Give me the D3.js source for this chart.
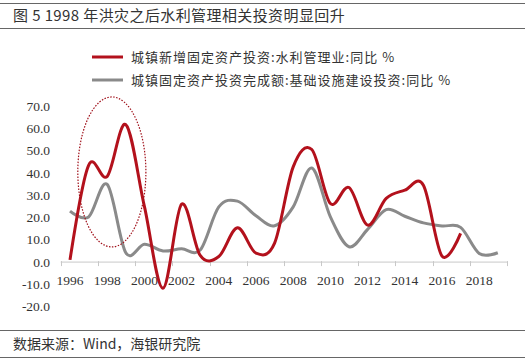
<!DOCTYPE html>
<html><head><meta charset="utf-8">
<script src="https://cdn.jsdelivr.net/npm/d3@7"></script>
<style>
body{margin:0;background:#fff;}
svg{display:block;}
</style></head>
<body>
<svg id="c" width="525" height="362"></svg>
<script>
const years = d3.range(1996, 2020);
const redYears = d3.range(1996, 2018);
const redValues = [1, 43.5, 38.5, 61.8, 25, -11.7, 26, 3, 2.5, 15.4, 4, 8.5, 42.8, 50.6, 26.3, 33.5, 16.6, 28.6, 32.3, 34.5, 2.7, 12.9];
const grayYears = d3.range(1996, 2020);
const grayValues = [22.9, 20.3, 34.9, 4.2, 8, 5, 6, 5.4, 24.8, 27.4, 20.8, 16.3, 24.8, 42.3, 20.3, 6.9, 14.7, 23.6, 20.6, 17.6, 16.2, 15.6, 3.9, 4.2];
const yTicks = [70, 60, 50, 40, 30, 20, 10, 0, -10, -20];
const xLabels = [1996, 1998, 2000, 2002, 2004, 2006, 2008, 2010, 2012, 2014, 2016, 2018];
const xTickMarks = d3.range(1995.5, 2020, 2);
const seriesNames = ["城镇新增固定资产投资:水利管理业:同比 %", "城镇固定资产投资完成额:基础设施建设投资:同比 %"];
const title = "图 5 1998 年洪灾之后水利管理相关投资明显回升";
const source = "数据来源：Wind，海银研究院";

const RED = "#B3111C", GRAY = "#8a8a8a";
const svg = d3.select("#c");
const x = d3.scaleLinear().domain([1996, 2018]).range([70, 479.2]);
const y = d3.scaleLinear().domain([-20, 70]).range([306.6, 106.3]);

// title block
svg.append("line").attr("x1",0).attr("x2",525).attr("y1",3.5).attr("y2",3.5).attr("stroke","#666").attr("stroke-width",1);
svg.append("line").attr("x1",0).attr("x2",525).attr("y1",28.5).attr("y2",28.5).attr("stroke","#666").attr("stroke-width",1);
svg.append("text").attr("x",13).attr("y",21).attr("font-family","Noto Sans CJK SC").attr("font-size",15)
  .attr("letter-spacing",0.4).attr("fill","#333").text(title);

// legend
const lg = svg.append("g");
[[RED,57],[GRAY,80]].forEach((d,i)=>{
  lg.append("line").attr("x1",92).attr("x2",123).attr("y1",d[1]).attr("y2",d[1]).attr("stroke",d[0]).attr("stroke-width",3);
  lg.append("text").attr("x",131).attr("y",d[1]+4.5).attr("font-family","Noto Sans CJK SC").attr("font-size",13)
    .attr("letter-spacing",1).attr("fill","#333").text(seriesNames[i]);
});

// y axis labels
svg.append("g").selectAll("text").data(yTicks).join("text")
  .attr("x",50).attr("y",d=>y(d)+4.5).attr("text-anchor","end")
  .attr("font-family","Liberation Serif").attr("font-size",13.5).attr("fill","#333")
  .text(d=>d.toFixed(1));

// x axis
svg.append("line").attr("x1",x(1995.5)).attr("x2",x(2019.5)).attr("y1",y(0)).attr("y2",y(0)).attr("stroke","#c8c8c8").attr("stroke-width",1);
svg.append("g").selectAll("line").data(xTickMarks).join("line")
  .attr("x1",d=>Math.round(x(d))+0.5).attr("x2",d=>Math.round(x(d))+0.5)
  .attr("y1",y(0)-1).attr("y2",y(0)+4).attr("stroke","#c8c8c8");
svg.append("g").selectAll("text").data(xLabels).join("text")
  .attr("x",d=>x(d)).attr("y",285).attr("text-anchor","middle")
  .attr("font-family","Liberation Serif").attr("font-size",13.5).attr("fill","#333").text(d=>d);

// lines
const line = d3.line().curve(d3.curveCardinal.tension(0));
svg.append("path").attr("d", line(grayYears.map((yr,i)=>[x(yr), y(grayValues[i])])))
  .attr("fill","none").attr("stroke",GRAY).attr("stroke-width",3);
svg.append("path").attr("d", line(redYears.map((yr,i)=>[x(yr), y(redValues[i])])))
  .attr("fill","none").attr("stroke",RED).attr("stroke-width",3);

// annotation ellipse
svg.append("ellipse").attr("cx",x(1998.25)).attr("cy",y(40.5))
  .attr("rx",x(1998.25+1.83)-x(1998.25)).attr("ry",y(0)-y(33.7))
  .attr("fill","none").attr("stroke","#A0101A").attr("stroke-width",1.2).attr("stroke-dasharray","1.5,1.5");

// source
svg.append("line").attr("x1",0).attr("x2",525).attr("y1",330.5).attr("y2",330.5).attr("stroke","#666");
svg.append("line").attr("x1",0).attr("x2",525).attr("y1",357.5).attr("y2",357.5).attr("stroke","#666");
svg.append("text").attr("x",13).attr("y",349).attr("font-family","Noto Sans CJK SC").attr("font-size",14).attr("fill","#333").text(source);
</script>
</body></html>
